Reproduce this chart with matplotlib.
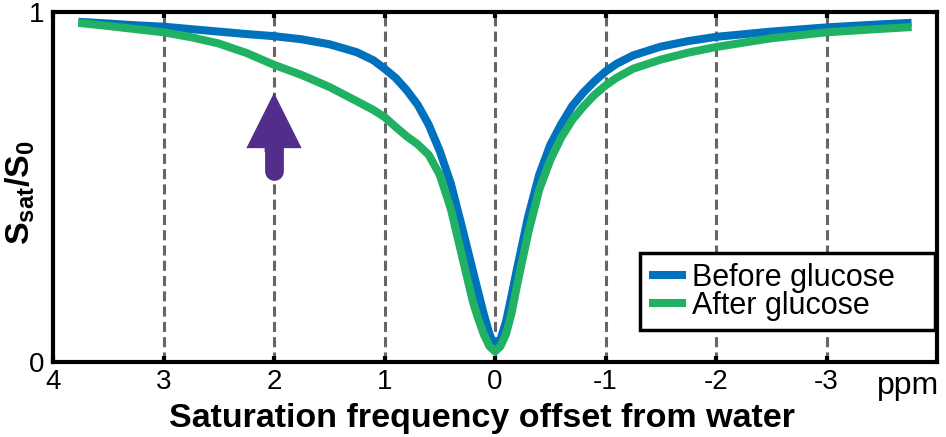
import matplotlib
matplotlib.use('Agg')
import matplotlib.pyplot as plt
from matplotlib.patches import FancyArrow

matplotlib.rc('font', family='Liberation Sans')
matplotlib.rc('mathtext', fontset='custom', rm='Liberation Sans',
              bf='Liberation Sans:bold', it='Liberation Sans:italic')

# Z-spectrum readings (offset in ppm, normalised signal)
offsets = [3.77, 3.5, 3.25, 3.0, 2.75, 2.5, 2.25, 2.0, 1.75, 1.5, 1.25,
           1.1, 1.0, 0.9, 0.8, 0.7, 0.6, 0.5, 0.4, 0.3, 0.2, 0.15, 0.1,
           0.05, 0.0, -0.05, -0.1, -0.15, -0.2, -0.3, -0.4, -0.5, -0.6,
           -0.7, -0.8, -0.9, -1.0, -1.1, -1.25, -1.5, -1.75, -2.0, -2.5,
           -3.0, -3.5, -3.77]
before = [0.972, 0.967, 0.962, 0.958, 0.951, 0.944, 0.937, 0.931, 0.922,
          0.908, 0.885, 0.862, 0.838, 0.812, 0.777, 0.735, 0.678, 0.603,
          0.510, 0.387, 0.260, 0.197, 0.135, 0.080, 0.042, 0.065, 0.115,
          0.190, 0.267, 0.415, 0.535, 0.620, 0.680, 0.732, 0.770, 0.802,
          0.830, 0.852, 0.876, 0.901, 0.917, 0.929, 0.944, 0.956, 0.965,
          0.969]
after = [0.969, 0.960, 0.951, 0.942, 0.928, 0.910, 0.883, 0.849, 0.820,
         0.786, 0.745, 0.720, 0.700, 0.672, 0.645, 0.622, 0.592, 0.535,
         0.438, 0.305, 0.172, 0.122, 0.078, 0.045, 0.030, 0.045, 0.080,
         0.140, 0.220, 0.368, 0.492, 0.577, 0.642, 0.692, 0.730, 0.763,
         0.790, 0.812, 0.838, 0.864, 0.884, 0.900, 0.925, 0.942, 0.952,
         0.957]
grid_offsets = [3, 2, 1, 0, -1, -2, -3]
xtick_values = [4, 3, 2, 1, 0, -1, -2, -3]
xtick_labels = ['4', '3', '2', '1', '0', '-1', '-2', '-3']

BLUE = '#0071bc'
GREEN = '#20b262'
PURPLE = '#522d8a'

fig = plt.figure(figsize=(9.46, 4.37), dpi=100)
ax = fig.add_axes([53 / 946, 1 - 362 / 437, 884 / 946, 350 / 437])

for g in grid_offsets:
    ln = ax.axvline(g, color='#666666', lw=2.2, zorder=1)
    ln.set_dashes((3.3, 1.7))

ax.plot(offsets, before, color=BLUE, lw=5.8, label='Before glucose',
        solid_capstyle='butt', solid_joinstyle='round', zorder=3)
ax.plot(offsets, after, color=GREEN, lw=5.8, label='After glucose',
        solid_capstyle='butt', solid_joinstyle='round', zorder=4)

# arrow marking the glucose effect
ax.plot([2, 2], [0.545, 0.62], color=PURPLE, lw=13.5,
        solid_capstyle='round', zorder=5)
ax.add_patch(FancyArrow(2, 0.60, 0, 0.769 - 0.60, width=0.17,
                        head_width=0.5, head_length=0.769 - 0.611,
                        length_includes_head=True, color=PURPLE,
                        lw=0, zorder=5))

ax.set_xlim(4, -4)
ax.set_ylim(0, 1)
ax.set_xticks(xtick_values)
ax.set_xticklabels(xtick_labels)
ax.set_yticks([0, 1])
ax.set_yticklabels(['0', '1'])
ax.tick_params(axis='x', direction='in', top=True, length=4, width=3,
               labelsize=20, pad=5)
ax.tick_params(axis='y', length=0, labelsize=20, pad=6)
for side in ax.spines.values():
    side.set_linewidth(3)

fig.text(908 / 946, 1 - 386 / 437, 'ppm', ha='center', va='center',
         fontsize=23)
fig.text(482 / 946, 1 - 418 / 437, 'Saturation frequency offset from water',
         ha='center', va='center', fontsize=24.5, fontweight='bold')
fig.text(20 / 946, 1 - 193 / 437, r'$\mathbf{S_{sat}/S_0}$', rotation=90,
         ha='center', va='center', fontsize=24.5)

# legend box spans 640..935 px across, as in the source figure
leg_x0 = (640 - 53) / 884
leg_w = (935 - 640) / 884
leg = ax.legend(loc='lower left', bbox_to_anchor=(leg_x0, 0.091, leg_w, 0.22),
                mode='expand', fontsize=22, frameon=True, fancybox=False,
                framealpha=1, edgecolor='black', borderaxespad=0,
                handlelength=1.2, handletextpad=0.2, labelspacing=-0.05,
                borderpad=0.3)
leg.get_frame().set_linewidth(2.5)

fig.savefig('out.png', dpi=100)
